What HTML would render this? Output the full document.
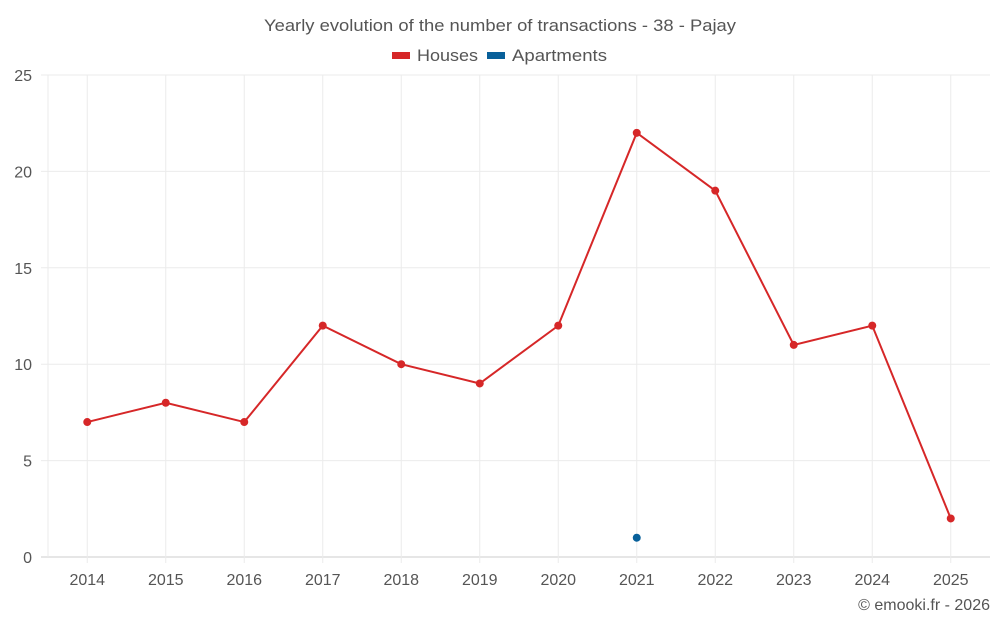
<!DOCTYPE html>
<html><head><meta charset="utf-8"><style>
body{margin:0;background:#fff;font-family:"Liberation Sans",sans-serif}
</style></head><body>
<svg id="c" width="1000" height="625" xmlns="http://www.w3.org/2000/svg">
<text x="264" y="31" textLength="472" lengthAdjust="spacingAndGlyphs" font-size="17" fill="#555">Yearly evolution of the number of transactions - 38 - Pajay</text>
<g>
<g><rect x="392" y="52" width="18" height="7" fill="#d62728"/><text x="417" y="61" font-size="17" textLength="61" lengthAdjust="spacingAndGlyphs" fill="#555">Houses</text></g>
<g><rect x="487" y="52" width="18" height="7" fill="#08609a"/><text x="512" y="61" font-size="17" textLength="95" lengthAdjust="spacingAndGlyphs" fill="#555">Apartments</text></g>
</g>
<g id="grid"></g>
<g id="axes"></g>
<g id="series"></g>
<text x="990" y="610" text-anchor="end" font-size="16" fill="#555">© emooki.fr - 2026</text>
</svg>
<script>
const years=["2014","2015","2016","2017","2018","2019","2020","2021","2022","2023","2024","2025"];
const houses=[7,8,7,12,10,9,12,22,19,11,12,2];
const apartments=[null,null,null,null,null,null,null,1,null,null,null,null];
const yTicks=[0,5,10,15,20,25];
const NS="http://www.w3.org/2000/svg";
const L=48,R=990,T=75,B=557,yMax=25;
const bw=(R-L)/years.length;
const x=i=>L+bw*(i+0.5);
const y=v=>B-(v/yMax)*(B-T);
function mk(t,a,p){const e=document.createElementNS(NS,t);for(const k in a)e.setAttribute(k,a[k]);p.appendChild(e);return e;}
const grid=document.getElementById('grid'),axes=document.getElementById('axes'),ser=document.getElementById('series');
yTicks.forEach(v=>{
 const l=mk('line',{x1:41,x2:R,y1:y(v),y2:y(v),stroke:v===0?'#ccc':'#ebebeb','stroke-width':1},grid);
 
 
 const t=mk('text',{x:32,y:y(v)+6,'text-anchor':'end','font-size':16,fill:'#555'},axes);
 t.textContent=v;
 
 
});
const el=mk('line',{x1:L,x2:L,y1:T,y2:B,stroke:'#ebebeb','stroke-width':1},grid);


years.forEach((yr,i)=>{
 const l=mk('line',{x1:x(i),x2:x(i),y1:T,y2:B+6,stroke:'#ebebeb','stroke-width':1},grid);
 
 
 const t=mk('text',{x:x(i),y:585,'text-anchor':'middle','font-size':16,fill:'#555'},axes);
 t.textContent=yr;
 
 
});
const pts=houses.map((v,i)=>x(i)+','+y(v)).join(' ');
const pl=mk('polyline',{points:pts,fill:'none',stroke:'#d62728','stroke-width':2},ser);


houses.forEach((v,i)=>{
 const c=mk('circle',{cx:x(i),cy:y(v),r:4,fill:'#d62728'},ser);
 
 
});
apartments.forEach((v,i)=>{
 if(v==null)return;
 const c=mk('circle',{cx:x(i),cy:y(v),r:4,fill:'#08609a'},ser);
 
 
});
</script>
</body></html>
